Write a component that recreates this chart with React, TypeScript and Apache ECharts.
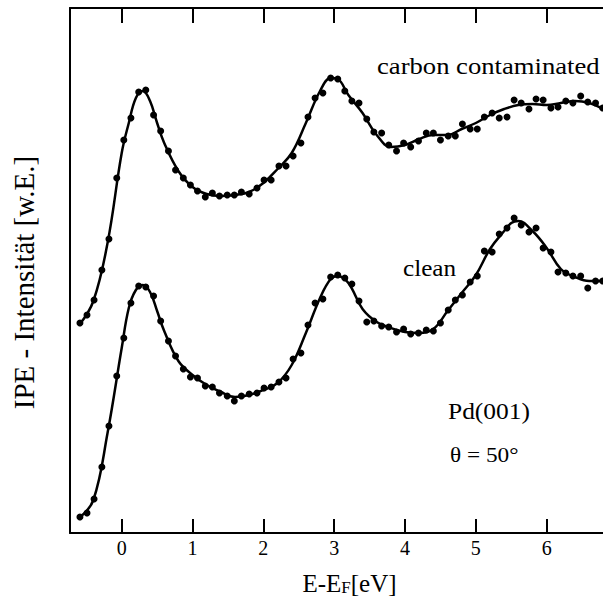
import React, { useEffect, useRef } from "react";
import * as echarts from "echarts";

// measured energies (eV) of the data points
const pointX = [-0.59,-0.49,-0.39,-0.28,-0.18,-0.07,0.03,0.13,0.24,0.34,0.45,0.55,0.66,0.76,0.87,0.97,1.07,1.18,1.28,1.38,1.49,1.59,1.69,1.80,1.91,2.01,2.11,2.22,2.32,2.42,2.53,2.63,2.73,2.84,2.95,3.05,3.15,3.25,3.35,3.46,3.56,3.67,3.77,3.88,3.98,4.08,4.19,4.30,4.40,4.50,4.61,4.71,4.81,4.92,5.02,5.12,5.23,5.33,5.44,5.54,5.64,5.75,5.85,5.95,6.06,6.16,6.27,6.37,6.48,6.58,6.69,6.79];
// carbon contaminated data points (arb. units)
const carbonPts = [210,218,233,263,294,355,393,415,441,443,418,402,382,363,355,348,342,336,340,337,338,338,341,339,345,353,353,367,367,377,390,416,435,440,455,454,442,432,430,414,401,400,388,382,390,386,392,400,400,393,397,397,409,404,404,416,420,415,416,433,430,424,434,433,425,426,432,430,437,431,430,425];
// clean data points (arb. units)
const cleanPts = [16,20,34,66,107,157,195,230,247,246,237,212,192,177,164,156,155,147,146,140,137,132,137,139,140,145,146,151,155,174,180,208,230,234,256,258,255,249,232,211,212,207,206,201,204,199,200,203,202,210,223,233,238,251,257,282,281,299,305,315,308,301,305,285,281,261,260,257,257,245,252,252];

// smooth fit curves
const carbonFitX = [-0.6,-0.4,-0.2,0,0.1,0.2,0.3,0.4,0.5,0.6,0.8,1.0,1.2,1.4,1.6,1.8,2.0,2.2,2.4,2.6,2.8,2.95,3.05,3.2,3.4,3.6,3.8,4.0,4.2,4.4,4.6,4.8,5.0,5.2,5.4,5.6,5.8,6.0,6.2,6.4,6.6,6.8];
const carbonFitY = [208,232,290,380,410,435,442,432,410,390,362,346,339,337,338,341,350,364,380,410,442,455,454,438,420,398,386,388,394,398,398,404,410,418,424,428,429,428,430,432,430,424];
const cleanFitX = [-0.6,-0.4,-0.2,0,0.1,0.2,0.3,0.4,0.5,0.6,0.8,1.0,1.2,1.4,1.6,1.8,2.0,2.2,2.4,2.6,2.8,2.95,3.05,3.2,3.4,3.6,3.8,4.0,4.2,4.4,4.6,4.8,5.0,5.2,5.4,5.5,5.6,5.8,6.0,6.2,6.4,6.6,6.8];
const cleanFitY = [15,33,100,185,225,243,248,241,222,202,172,158,148,141,136,138,143,150,168,200,235,254,257,250,224,211,205,201,200,204,222,240,258,284,302,310,312,302,285,264,256,252,252];

const xTicks = [0, 1, 2, 3, 4, 5, 6];

const FONT = "Liberation Serif";

export default function App() {
  const ref = useRef<HTMLDivElement>(null);
  useEffect(() => {
    if (!ref.current) return;
    const chart = echarts.init(ref.current, null, { renderer: "svg" });
    const zip = (xs: number[], ys: number[]) => xs.map((x, i) => [x, ys[i]]);
    const xMin = -0.73;
    const xMax = 6.795;
    chart.setOption({
      animation: false,
      backgroundColor: "#fff",
      textStyle: { fontFamily: FONT },
      grid: { left: 70, top: 8, right: 0, bottom: 69, containLabel: false, outerBoundsMode: "none" },
      xAxis: [
        {
          type: "value",
          position: "bottom",
          min: xMin,
          max: xMax,
          splitLine: { show: false },
          axisLine: { show: true, onZero: false, lineStyle: { color: "#000", width: 2 } },
          axisTick: { show: true, inside: true, length: 14, customValues: xTicks, lineStyle: { color: "#000", width: 2 } },
          axisLabel: { show: true, customValues: xTicks, color: "#000", fontFamily: FONT, fontSize: 20, margin: 5 },
          name: "E-E{sub|F}[eV]",
          nameLocation: "middle",
          nameGap: 35.5,
          nameTextStyle: {
            color: "#000",
            fontFamily: FONT,
            fontSize: 25,
            lineHeight: 25,
            padding: [0, 0, 0, 26],
            rich: {
              sub: { fontFamily: FONT, fontSize: 17, lineHeight: 17, color: "#000", verticalAlign: "bottom", padding: [16, 0, 0, 0] },
            },
          },
        },
        {
          type: "value",
          position: "top",
          min: xMin,
          max: xMax,
          splitLine: { show: false },
          axisLine: { show: true, onZero: false, lineStyle: { color: "#000", width: 2 } },
          axisTick: { show: true, inside: true, length: 15, customValues: xTicks, lineStyle: { color: "#000", width: 2 } },
          axisLabel: { show: false },
        },
      ],
      yAxis: {
        type: "value",
        min: 0,
        max: 525,
        splitLine: { show: false },
        axisLine: { show: true, onZero: false, lineStyle: { color: "#000", width: 2 } },
        axisTick: { show: false },
        axisLabel: { show: false },
        name: "IPE - Intensität [w.E.]",
        nameLocation: "middle",
        nameGap: 32,
        nameTextStyle: { color: "#000", fontFamily: FONT, fontSize: 29, padding: [0, 24, 0, 0] },
      },
      series: [
        {
          name: "carbon contaminated fit",
          type: "line",
          data: zip(carbonFitX, carbonFitY),
          smooth: 0.4,
          showSymbol: false,
          lineStyle: { color: "#000", width: 2.5 },
          z: 2,
        },
        {
          name: "carbon contaminated",
          type: "scatter",
          data: zip(pointX, carbonPts),
          symbolSize: 7,
          itemStyle: { color: "#000", opacity: 1 },
          z: 3,
        },
        {
          name: "clean fit",
          type: "line",
          data: zip(cleanFitX, cleanFitY),
          smooth: 0.4,
          showSymbol: false,
          lineStyle: { color: "#000", width: 2.5 },
          z: 2,
        },
        {
          name: "clean",
          type: "scatter",
          data: zip(pointX, cleanPts),
          symbolSize: 7,
          itemStyle: { color: "#000", opacity: 1 },
          z: 3,
        },
      ],
      graphic: [
        {
          type: "text",
          x: 377,
          y: 65.5,
          scaleX: 1.11,
          style: { text: "carbon contaminated", fontFamily: FONT, fontSize: 24, fill: "#000", align: "left", verticalAlign: "middle" },
        },
        {
          type: "text",
          x: 403,
          y: 267.5,
          scaleX: 1.05,
          style: { text: "clean", fontFamily: FONT, fontSize: 24, fill: "#000", align: "left", verticalAlign: "middle" },
        },
        {
          type: "text",
          x: 448,
          y: 410.5,
          scaleX: 1.06,
          style: { text: "Pd(001)", fontFamily: FONT, fontSize: 24, fill: "#000", align: "left", verticalAlign: "middle" },
        },
        {
          type: "text",
          x: 450,
          y: 455,
          scaleX: 1.06,
          style: { text: "θ = 50°", fontFamily: FONT, fontSize: 22, fill: "#000", align: "left", verticalAlign: "middle" },
        },
      ],
    });
    return () => chart.dispose();
  }, []);
  return <div ref={ref} style={{ width: 603, height: 602, position: "absolute", left: 0, top: 0 }} />;
}
